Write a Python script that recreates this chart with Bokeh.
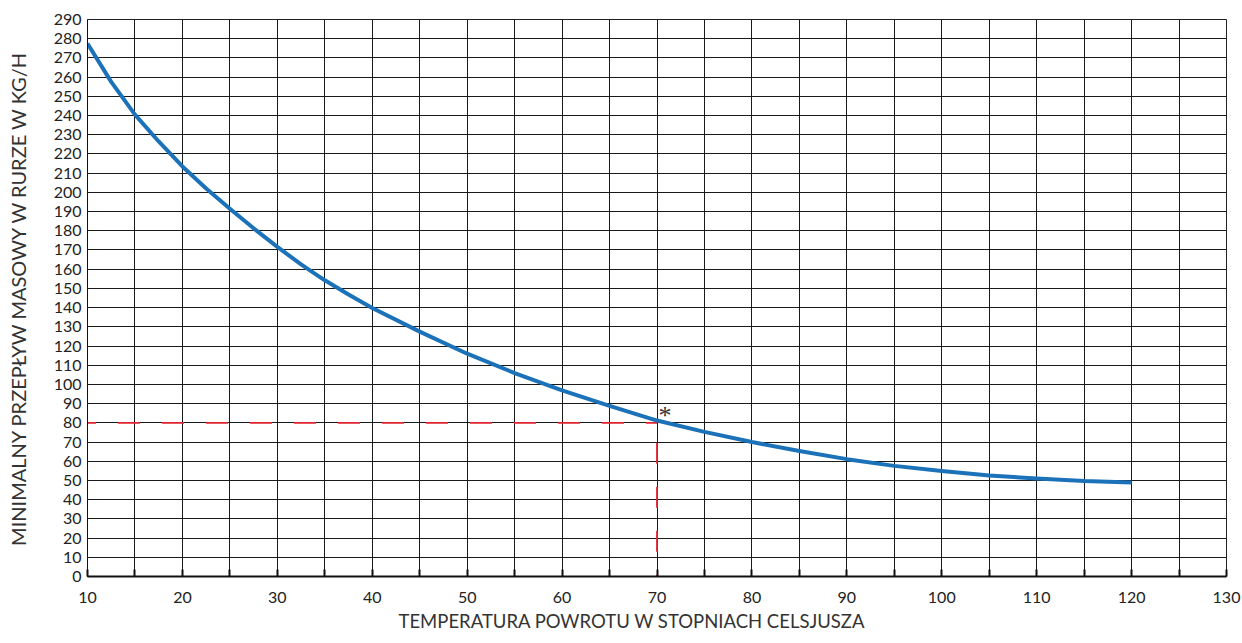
from bokeh.plotting import figure
from bokeh.models import FixedTicker, Range1d, Title
from bokeh.embed import file_html
from bokeh.resources import INLINE

temps = [10, 12.5, 15, 17.5, 20, 22.5, 25, 27.5, 30, 32.5, 35, 37.5, 40, 45, 50, 55,
         60, 65, 70, 75, 80, 85, 90, 95, 100, 105, 110, 115, 120]
flow = [277.5, 257.5, 240.5, 226.5, 213.5, 202, 191.5, 181.3, 171.6, 162.5, 154.2, 146.8, 139.8, 127.5, 116, 105.9,
        96.9, 88.8, 81.2, 75.3, 70, 65.3, 61.1, 57.6, 54.9, 52.6, 51, 49.7, 49]
ref_temp = 70
ref_flow = 80
x_ticks = list(range(10, 131, 10))
x_minor = list(range(15, 131, 10))
y_ticks = list(range(0, 291, 10))

p = figure(width=1242, height=643, output_backend="svg", toolbar_location=None,
           x_range=Range1d(10, 130), y_range=Range1d(0, 290),
           min_border_left=87, min_border_right=16, min_border_top=19, min_border_bottom=67)
p.background_fill_color = "white"
p.border_fill_color = "white"
p.outline_line_color = "#222222"
p.outline_line_width = 1

p.xaxis.ticker = FixedTicker(ticks=x_ticks, minor_ticks=x_minor)
p.yaxis.ticker = FixedTicker(ticks=y_ticks)
p.xgrid.ticker = FixedTicker(ticks=list(range(10, 131, 5)))
p.ygrid.ticker = FixedTicker(ticks=y_ticks)
for g in (p.xgrid, p.ygrid):
    g.grid_line_color = "#1a1a1a"
    g.grid_line_width = 1
    g.grid_line_alpha = 1

for ax in (p.xaxis, p.yaxis):
    ax.major_label_text_font = "Lato"
    ax.major_label_text_font_size = "16px"
    ax.major_label_text_color = "#222222"
    ax.axis_label_text_font = "Lato"
    ax.axis_label_text_font_style = "normal"
    ax.axis_label_text_color = "#333333"
    ax.axis_line_color = "#111111"

p.xaxis.major_tick_in = 7
p.xaxis.major_tick_out = 0
p.xaxis.minor_tick_in = 7
p.xaxis.minor_tick_out = 0
p.xaxis.major_tick_line_color = "#111111"
p.xaxis.minor_tick_line_color = "#111111"
p.xaxis.major_tick_line_width = 2
p.xaxis.minor_tick_line_width = 2
p.xaxis.axis_line_width = 2
p.xaxis.major_label_standoff = 15

x_title = Title(text="TEMPERATURA POWROTU W STOPNIACH CELSJUSZA", align="left", offset=311,
                text_font="Lato", text_font_size="18.5px", text_font_style="normal",
                text_color="#333333", standoff=4, vertical_align="bottom",
                text_line_height=1.6)
p.add_layout(x_title, "below")

p.yaxis.major_tick_in = 0
p.yaxis.major_tick_out = 0
p.yaxis.minor_tick_line_color = None
p.yaxis.major_label_standoff = 6
p.yaxis.axis_label = "MINIMALNY PRZEPŁYW MASOWY W RURZE W KG/H"
p.yaxis.axis_label_text_font_size = "20px"
p.yaxis.axis_label_standoff = 21

# reference dashed lines
p.line([ref_temp, temps[0]], [ref_flow, ref_flow], line_color="#e0232e", line_width=1.8,
       line_dash="22 22", line_dash_offset=11)
p.line([ref_temp, ref_temp], [ref_flow, 0], line_color="#e0232e", line_width=1.8,
       line_dash="21 23", line_dash_offset=24)

p.line(temps, flow, line_color="#1b72b8", line_width=4, line_join="round", line_cap="butt")

p.text([ref_temp], [ref_flow], text=["*"], x_offset=8, y_offset=-7, text_font_size="26px",
       text_font="Lato", text_color="#333333", text_baseline="alphabetic", text_align="center")

open("out.html", "w").write(file_html(p, INLINE))
